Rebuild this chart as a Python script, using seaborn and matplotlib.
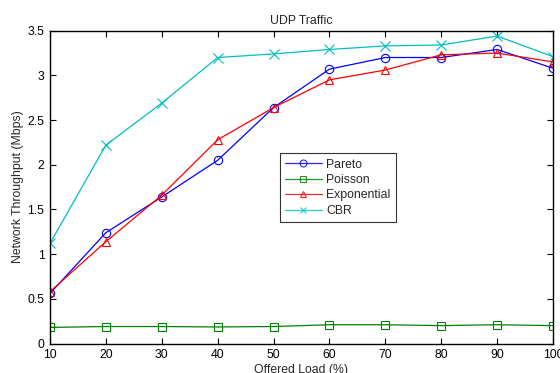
import matplotlib
matplotlib.use("Agg")
import matplotlib.pyplot as plt
import seaborn as sns
import pandas as pd

load = [10, 20, 30, 40, 50, 60, 70, 80, 90, 100]
pareto = [0.56, 1.24, 1.64, 2.05, 2.64, 3.07, 3.20, 3.20, 3.29, 3.08]
poisson = [0.18, 0.19, 0.19, 0.185, 0.19, 0.21, 0.21, 0.20, 0.21, 0.20]
exponential = [0.58, 1.14, 1.66, 2.28, 2.64, 2.95, 3.06, 3.23, 3.25, 3.15]
cbr = [1.12, 2.22, 2.69, 3.20, 3.24, 3.29, 3.33, 3.34, 3.44, 3.21]

series = [
    ("Pareto", pareto, (0, 0, 1), "o"),
    ("Poisson", poisson, (0, 0.5, 0), "s"),
    ("Exponential", exponential, (1, 0, 0), "^"),
    ("CBR", cbr, (0, 0.75, 0.75), "x"),
]

sns.set_style("ticks")
plt.rcParams["font.family"] = ["Liberation Sans", "DejaVu Sans"]
FS = 8.8

fig = plt.figure(figsize=(5.6, 3.73), dpi=100)
ax = fig.add_axes([50 / 560, 1 - 343.5 / 373, 503 / 560, (343.5 - 30.7) / 373])

for name, vals, col, mk in series:
    df = pd.DataFrame({"load": load, "val": vals})
    sns.lineplot(data=df, x="load", y="val", ax=ax, color=col, marker=mk,
                 markersize=6 if mk != "x" else 7, markerfacecolor="none",
                 markeredgecolor=col, markeredgewidth=0.8, linewidth=0.9,
                 label=name)

ax.set_xlim(10, 100)
ax.set_ylim(0, 3.5)
ax.set_xticks(load)
ax.set_yticks([0, 0.5, 1, 1.5, 2, 2.5, 3, 3.5])
ax.set_yticklabels(["0", "0.5", "1", "1.5", "2", "2.5", "3", "3.5"])
ax.tick_params(direction="in", top=True, right=True, labelsize=FS, length=4.5,
               width=0.8, colors="black", pad=4)
for s in ax.spines.values():
    s.set_visible(True)
    s.set_linewidth(1.0)
    s.set_color("black")

ax.set_title("UDP Traffic", fontsize=FS, pad=5)
ax.set_xlabel("Offered Load (%)", fontsize=FS, labelpad=2)
ax.set_ylabel("Network Throughput (Mbps)", fontsize=FS, labelpad=1)
ax.yaxis.set_label_coords(-26 / 503, 0.5)

leg = ax.legend(loc="lower left", bbox_to_anchor=((279.5 - 50) / 503, (343.5 - 222.3) / 312.8),
                fontsize=FS, frameon=True, fancybox=False, edgecolor="black",
                handlelength=3.0, borderpad=0.45, labelspacing=0.28, handletextpad=0.35,
                borderaxespad=0)
leg.get_frame().set_linewidth(0.8)
for h in leg.legend_handles:
    h.set_markersize(5)
    h.set_alpha(0.85)

fig.savefig("out.png", dpi=100)
